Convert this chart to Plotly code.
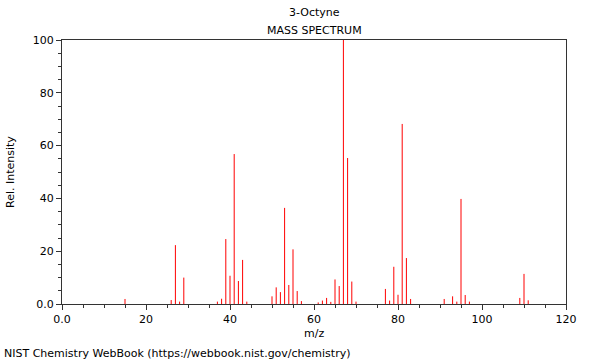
import plotly.graph_objects as go

mz = [15, 26, 27, 28, 29, 37, 38, 39, 40, 41, 42, 43, 44,
      50, 51, 52, 53, 54, 55, 56, 57, 61, 62, 63, 64, 65, 66, 67, 68, 69, 70,
      77, 78, 79, 80, 81, 82, 83, 91, 93, 94, 95, 96, 97, 109, 110, 111]
intensity = [1.9, 1.5, 22.3, 0.9, 10.0, 0.9, 2.0, 24.6, 10.7, 56.8, 8.7, 16.7, 0.9,
             2.9, 6.3, 4.5, 36.4, 7.2, 20.7, 4.9, 1.1, 0.6, 1.3, 2.3, 0.8, 9.3, 6.8, 100.0, 55.3, 8.5, 0.9,
             5.7, 1.3, 14.1, 3.5, 68.2, 17.4, 1.9, 1.9, 2.9, 0.9, 39.8, 3.4, 0.9, 2.3, 11.4, 1.4]

x_ticks = [0, 20, 40, 60, 80, 100, 120]
x_ticktext = ["0.0", "20", "40", "60", "80", "100", "120"]
y_ticks = [0, 20, 40, 60, 80, 100]
y_ticktext = ["0.0", "20", "40", "60", "80", "100"]

xs, ys = [], []
for m, i in zip(mz, intensity):
    xs += [m, m, None]
    ys += [0, i, None]

fig = go.Figure(go.Scatter(x=xs, y=ys, mode="lines",
                           line=dict(color="#ff0000", width=1),
                           hoverinfo="skip", showlegend=False))

font = dict(family="DejaVu Sans", size=11, color="#000000")
axis_common = dict(showline=True, mirror=True, linecolor="#333333", linewidth=1,
                   showgrid=False, zeroline=False, ticks="outside", ticklen=5,
                   tickcolor="#333333", tickfont=font)

fig.update_xaxes(range=[0, 120], tickvals=x_ticks, ticktext=x_ticktext,
                 minor=dict(dtick=5, tick0=0, ticks="outside", ticklen=3, tickcolor="#333333"),
                 **axis_common)
fig.update_yaxes(range=[0, 100], tickvals=y_ticks, ticktext=y_ticktext,
                 minor=dict(dtick=5, tick0=0, ticks="outside", ticklen=3, tickcolor="#333333"),
                 **axis_common)

L, R, T, B = 62, 566, 40, 304
W, H = 600, 360
pw, ph = R - L, B - T

def px_x(px):
    return (px - L) / pw

def px_y(py):
    return (B - py) / ph

fig.update_layout(
    width=W, height=H,
    margin=dict(l=L, r=W - R, t=T, b=H - B),
    paper_bgcolor="white", plot_bgcolor="white",
    font=font,
    annotations=[
        dict(text="3-Octyne", x=px_x(314), y=px_y(13), xref="paper", yref="paper",
             xanchor="center", yanchor="middle", showarrow=False, font=font),
        dict(text="MASS SPECTRUM", x=px_x(314), y=px_y(30), xref="paper", yref="paper",
             xanchor="center", yanchor="middle", showarrow=False, font=font),
        dict(text="m/z", x=px_x(314), y=px_y(333), xref="paper", yref="paper",
             xanchor="center", yanchor="middle", showarrow=False, font=font),
        dict(text="Rel. Intensity", x=px_x(10), y=px_y(172), xref="paper", yref="paper",
             xanchor="center", yanchor="middle", textangle=-90, showarrow=False, font=font),
        dict(text="NIST Chemistry WebBook (https://webbook.nist.gov/chemistry)",
             x=px_x(2), y=px_y(353), xref="paper", yref="paper",
             xanchor="left", yanchor="middle", showarrow=False, font=font),
    ],
)

fig.write_html("out.html", config={"displayModeBar": False},
               post_script="document.body.style.margin='0';")
